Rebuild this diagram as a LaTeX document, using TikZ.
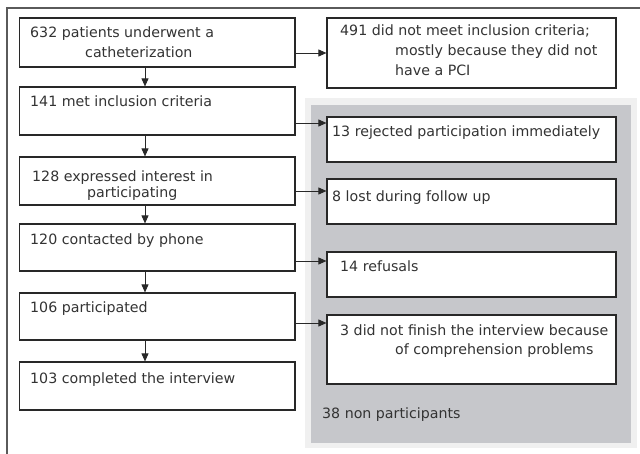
\documentclass[tikz,border=0pt]{standalone}
\definecolor{fcline}{RGB}{40, 40, 40}
\definecolor{fctext}{RGB}{51, 51, 51}
\definecolor{fcgray}{RGB}{198, 199, 203}
\definecolor{fclight}{RGB}{240, 240, 240}
\definecolor{fcframe}{RGB}{90, 90, 90}
\usepackage{fontspec}
\setmainfont{DejaVu Sans}
\usepackage{tikz}
\usetikzlibrary{arrows.meta, positioning}
\newcommand{\fcindent}{\hspace*{55pt}}

\begin{document}
\begin{tikzpicture}[x=1pt, y=-1pt,
    box/.style={draw=fcline, line width=1.2pt, fill=white, inner sep=0pt},
    txt/.style={anchor=base west, inner sep=0pt, align=left, text=fctext,
      font=\fontsize{14.2}{20}\selectfont},
    arr/.style={draw=fcline, line width=0.9pt, -{Triangle[length=8pt, width=7pt]}}]
    \useasboundingbox (0,0) rectangle (640,454);
    % frame
    \draw[fcframe, line width=1.2pt] (7,454) -- (7,8) -- (640,8);
    % non participants area
    \fill[fclight] (305,98) rectangle (637,448);
    \fill[fcgray] (311,105) rectangle (631,443);
    % left column
    \foreach \n/\y/\h in {1/42.5/49, 2/111/48, 3/181/48, 4/247.5/47, 5/316.5/47, 6/386/48} {
      \node[box, minimum width=275.5pt, minimum height=\h pt] (b\n) at (157.25,\y) {};
    }
    % right column
    \foreach \n/\y/\h in {0/53/70, 1/139.5/45, 2/201.5/45, 3/274.5/45, 4/349.5/69} {
      \node[box, minimum width=289pt, minimum height=\h pt] (r\n) at (471.5,\y) {};
    }
    % texts (multi-line ones sit on their last line)
    \node[txt] (t1) at (30,58) {632 patients underwent a\\\fcindent catheterization};
    \node[txt] (t2) at (30,107) {141 met inclusion criteria};
    \node[txt] (t3) at (32,198) {128 expressed interest in\\[-3.5pt]\fcindent participating};
    \node[txt] (t4) at (30,245) {120 contacted by phone};
    \node[txt] (t5) at (30,313) {106 participated};
    \node[txt] (t6) at (30,383) {103 completed the interview};
    \node[txt] (tr0) at (340,76) {491 did not meet inclusion criteria;\\[0.5pt]\fcindent mostly because they did not\\\fcindent have a PCI};
    \node[txt] (tr1) at (332,137) {13 rejected participation immediately};
    \node[txt] (tr2) at (332,202) {8 lost during follow up};
    \node[txt] (tr3) at (340,272) {14 refusals};
    \node[txt] (tr4) at (340,355) {3 did not finish the interview because\\\fcindent of comprehension problems};
    \node[txt] (tnon) at (322,418) {38 non participants};
    % arrows
    \foreach \a/\b in {b1/b2, b2/b3, b3/b4, b4/b5, b5/b6} {
      \draw[arr] ([xshift=-12.25pt]\a.south) -- ([xshift=-12.25pt]\b.north);
    }
    \foreach \a/\b/\s in {b1/r0/-10.5, b2/r1/-12, b3/r2/-10, b4/r3/-13.5, b5/r4/-6.5} {
      \draw[arr] ([yshift=\s pt]\a.east) -- ([yshift=\s pt]\a.east -| \b.west);
    }
\end{tikzpicture}
\end{document}
